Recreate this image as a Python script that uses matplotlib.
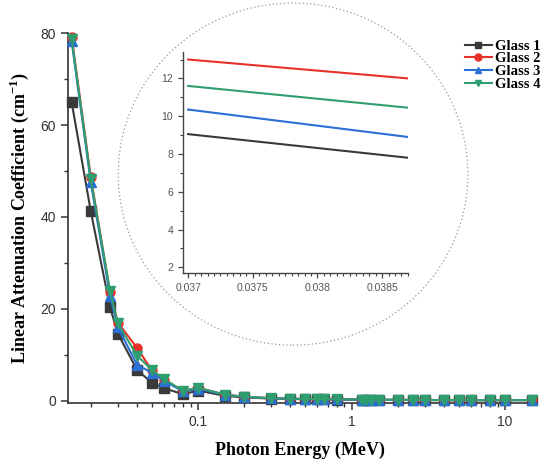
import matplotlib
matplotlib.use("Agg")
import matplotlib.pyplot as plt
from matplotlib.patches import Ellipse
from matplotlib.ticker import MultipleLocator, LogLocator, NullFormatter, FixedLocator

# photon energies (MeV) and linear attenuation coefficients (cm^-1)
energy = [0.015, 0.02, 0.0267, 0.03, 0.04, 0.05, 0.06, 0.08, 0.1, 0.15, 0.2, 0.3, 0.4,
          0.5, 0.6, 0.662, 0.8, 1.173, 1.25, 1.33, 1.5, 2, 2.5, 3, 4, 5, 6, 8, 10, 15]
glass1 = [65.0, 41.2, 20.3, 14.6, 6.7, 3.9, 2.7, 1.4, 2.2, 1.05, 0.70, 0.45, 0.37,
          0.32, 0.29, 0.28, 0.25, 0.21, 0.20, 0.19, 0.18, 0.15, 0.14, 0.13, 0.12, 0.11, 0.11, 0.11, 0.11, 0.12]
glass2 = [79.2, 48.6, 23.6, 17.0, 11.5, 6.6, 4.6, 2.1, 2.8, 1.30, 0.85, 0.52, 0.42,
          0.36, 0.33, 0.31, 0.28, 0.23, 0.22, 0.21, 0.20, 0.17, 0.15, 0.14, 0.13, 0.12, 0.12, 0.12, 0.12, 0.13]
glass3 = [78.3, 47.5, 22.8, 16.0, 7.8, 6.1, 4.3, 2.0, 2.6, 1.25, 0.82, 0.50, 0.41,
          0.35, 0.32, 0.30, 0.27, 0.22, 0.21, 0.20, 0.19, 0.16, 0.15, 0.14, 0.13, 0.12, 0.12, 0.12, 0.12, 0.13]
glass4 = [78.7, 48.2, 23.8, 16.8, 9.8, 6.7, 4.7, 2.1, 2.8, 1.30, 0.85, 0.52, 0.42,
          0.36, 0.33, 0.31, 0.28, 0.23, 0.22, 0.21, 0.20, 0.17, 0.15, 0.14, 0.13, 0.12, 0.12, 0.12, 0.12, 0.13]

# zoomed inset: straight segments between 0.037 and 0.0387 MeV
inset_x = [0.037, 0.0387]
inset_g1 = [9.05, 7.8]
inset_g2 = [13.0, 12.0]
inset_g3 = [10.35, 8.9]
inset_g4 = [11.6, 10.45]

labels = ['Glass 1', 'Glass 2', 'Glass 3', 'Glass 4']
colors = ['#3a3a3a', '#e8302a', '#2a6fd4', '#2f9e6f']
markers = ['s', 'o', '^', 'v']

serif = ['Liberation Serif', 'DejaVu Serif']
plt.rcParams['font.family'] = ['Liberation Sans', 'DejaVu Sans']
plt.rcParams['mathtext.fontset'] = 'custom'
plt.rcParams['mathtext.rm'] = 'Liberation Serif'
plt.rcParams['mathtext.bf'] = 'Liberation Serif:bold'

fig = plt.figure(figsize=(5.55, 4.68), dpi=100)
ax = fig.add_axes([0.1225, 0.139, 0.836, 0.790])

for y, lab, c, m in zip([glass1, glass2, glass3, glass4], labels, colors, markers):
    ax.plot(energy, y, marker=m, color=c, lw=1.5, ms=6.5, label=lab, clip_on=False, zorder=3)

ax.set_xscale('log')
ax.set_xlim(0.0142, 15)
ax.set_ylim(-0.5, 80)
ax.yaxis.set_major_locator(MultipleLocator(20))
ax.yaxis.set_minor_locator(MultipleLocator(10))
ax.xaxis.set_major_locator(FixedLocator([0.1, 1, 10]))
ax.set_xticklabels(['0.1', '1', '10'])
ax.xaxis.set_minor_locator(LogLocator(base=10, subs=range(2, 10)))
ax.xaxis.set_minor_formatter(NullFormatter())
ax.spines['top'].set_visible(False)
ax.spines['right'].set_visible(False)
for s in ['left', 'bottom']:
    ax.spines[s].set_linewidth(1.2)
    ax.spines[s].set_color('#333333')
ax.tick_params(which='major', direction='out', length=5, width=1.1, labelsize=10,
               colors='#333333', labelcolor='#333333')
ax.tick_params(which='minor', direction='out', length=3, width=1.0, colors='#333333')

ax.set_xlabel('Photon Energy (MeV)', family=serif, fontweight='bold', fontsize=13, labelpad=9)
ax.set_ylabel('Linear Attenuation Coefficient (cm$^{\\mathbf{-1}}$)', family=serif,
              fontweight='bold', fontsize=13, labelpad=7)

leg = ax.legend(loc='upper left', bbox_to_anchor=(0.828, 0.928), bbox_transform=fig.transFigure,
                frameon=False, handlelength=1.8, handletextpad=0.2, labelspacing=-0.04,
                borderaxespad=0, prop={'family': serif, 'weight': 'bold', 'size': 10.5})
for h in leg.legend_handles:
    h.set_markersize(5)

# dotted circle around the inset
fig.add_artist(Ellipse((0.528, 0.628), 0.63, 0.731, transform=fig.transFigure,
                       fill=False, ls=(0, (1, 2)), lw=0.9, color='#999999'))

ins = fig.add_axes([0.3297, 0.4167, 0.4053, 0.4723])
for y, c in zip([inset_g1, inset_g2, inset_g3, inset_g4], colors):
    ins.plot(inset_x, y, color=c, lw=1.5)
ins.set_xlim(0.03696, 0.0387)
ins.set_ylim(1.7, 13.4)
ins.xaxis.set_major_locator(FixedLocator([0.037, 0.0375, 0.038, 0.0385]))
ins.set_xticklabels(['0.037', '0.0375', '0.038', '0.0385'])
ins.xaxis.set_minor_locator(MultipleLocator(0.00005))
ins.yaxis.set_major_locator(MultipleLocator(2))
ins.yaxis.set_minor_locator(MultipleLocator(1))
ins.spines['top'].set_visible(False)
ins.spines['right'].set_visible(False)
for s in ['left', 'bottom']:
    ins.spines[s].set_linewidth(1.0)
    ins.spines[s].set_color('#444444')
ins.tick_params(which='major', direction='out', length=3.5, width=0.9, labelsize=7.5,
                colors='#444444', labelcolor='#555555')
ins.tick_params(which='minor', direction='out', length=2, width=0.8, colors='#444444')
ins.patch.set_alpha(0)

fig.savefig('out.png', dpi=100)
